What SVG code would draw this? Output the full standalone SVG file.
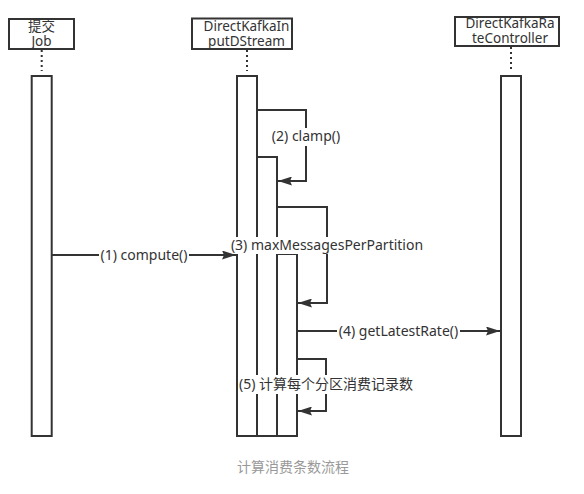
<svg xmlns="http://www.w3.org/2000/svg" width="584" height="494" viewBox="0 0 584 494">
<style>
  .box{fill:#fff;stroke:#333;stroke-width:2}
  .bar{fill:#fff;stroke:#333;stroke-width:2}
  .life{stroke:#333;stroke-width:2;stroke-dasharray:2 3;fill:none}
  .msg{stroke:#333;stroke-width:2;fill:none}
  .bg{fill:#fff}
  text{font-family:"Noto Sans","Noto Sans CJK SC",sans-serif;font-size:14px;fill:#333}
  .hd{text-anchor:middle;font-size:13.5px}
  .lb{text-anchor:middle}
  .cap{text-anchor:middle;fill:#999;font-size:14px}
</style>
<defs>
  <marker id="arr" viewBox="0 0 14 9" refX="14" refY="4.5" markerWidth="14" markerHeight="9" markerUnits="userSpaceOnUse" orient="auto">
    <path d="M0,0 L14,4.5 L0,9 L2,4.5 Z" fill="#333"/>
  </marker>
</defs>
<rect width="584" height="494" fill="#fff"/>
<g id="job">
  <rect class="box" x="9" y="19" width="65" height="30"/>
  <text class="hd" x="41.5" y="31">提交</text>
  <text class="hd" x="41.5" y="46">Job</text>
  <line class="life" x1="41.7" y1="50" x2="41.7" y2="71"/>
  <rect class="bar" x="31.7" y="76" width="20" height="360"/>
</g>
<g id="stream">
  <rect class="box" x="192" y="18.5" width="100" height="30.5"/>
  <text class="hd" x="246.5" y="31">DirectKafkaIn</text>
  <text class="hd" x="246.5" y="46">putDStream</text>
  <line class="life" x1="247" y1="50" x2="247" y2="71"/>
  <rect class="bar" x="237" y="76" width="20" height="360"/>
  <rect class="bar" x="257" y="157" width="20" height="279"/>
  <rect class="bar" x="277" y="254" width="20" height="182"/>
</g>
<g id="controller">
  <rect class="box" x="455" y="17" width="104" height="29"/>
  <text class="hd" x="510" y="28">DirectKafkaRa</text>
  <text class="hd" x="510" y="43">teController</text>
  <line class="life" x1="511" y1="47" x2="511" y2="71"/>
  <rect class="bar" x="501" y="76" width="20" height="360"/>
</g>
<g id="connectors">
  <line class="msg" x1="52" y1="255" x2="236" y2="255" marker-end="url(#arr)"/>
  <polyline class="msg" points="257,110 306,110 306,181 278,181" marker-end="url(#arr)"/>
  <polyline class="msg" points="277,207 327,207 327,303 298,303" marker-end="url(#arr)"/>
  <line class="msg" x1="297" y1="331" x2="500" y2="331" marker-end="url(#arr)"/>
  <polyline class="msg" points="297,359 326,359 326,411 298,411" marker-end="url(#arr)"/>
</g>
<g id="labels">
  <rect class="bg" x="99" y="246" width="90" height="18"/>
  <text class="lb" x="144" y="260">(1) compute()</text>
  <rect class="bg" x="271" y="128" width="70" height="18"/>
  <text class="lb" x="306" y="141">(2) clamp()</text>
  <rect class="bg" x="233" y="237" width="188" height="17"/>
  <text class="lb" x="327" y="250">(3) maxMessagesPerPartition</text>
  <rect class="bg" x="337" y="322" width="123" height="18"/>
  <text class="lb" x="398.5" y="336">(4) getLatestRate()</text>
  <rect class="bg" x="244" y="375" width="164" height="19"/>
  <text class="lb" x="326" y="389">(5) 计算每个分区消费记录数</text>
</g>
<text class="cap" x="293" y="472">计算消费条数流程</text>
</svg>
